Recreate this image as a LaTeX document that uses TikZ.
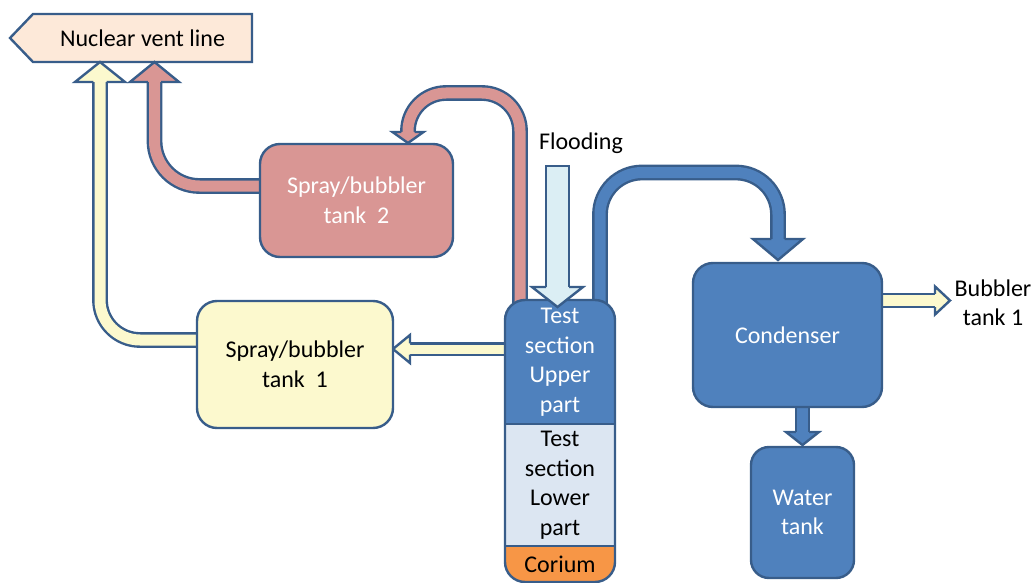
\documentclass[tikz,border=0pt]{standalone}
\usepackage{fontspec}
\setmainfont{Carlito}
\usepackage{xcolor}
\usepackage{tikz}
\usetikzlibrary{positioning,backgrounds}

\definecolor{lineblue}{RGB}{56,93,138}
\definecolor{boxblue}{RGB}{79,129,189}
\definecolor{pinkfill}{RGB}{217,150,148}
\definecolor{yellowfill}{RGB}{252,249,206}
\definecolor{ventfill}{RGB}{253,233,217}
\definecolor{lowfill}{RGB}{220,230,242}
\definecolor{floodfill}{RGB}{219,238,244}
\definecolor{coriumfill}{RGB}{247,150,70}

\newcommand{\labelfont}{\fontsize{24}{29.5}\selectfont}
\newcommand{\blkhead}[6]{\filldraw[outl, fill=#1, shift={(#2)}, rotate=#3] (0,#4) -- (0,#5) -- (#6,0) -- (0,-#5) -- (0,-#4);}

\begin{document}
\begin{tikzpicture}[x=1pt, y=-1pt,
		outl/.style={draw=lineblue, line width=2.4},
		box/.style={outl, rounded corners=20, align=center, inner sep=0, outer sep=0, font=\labelfont},
		part/.style={minimum width=110, inner sep=0, outer sep=0, align=center, font=\labelfont},
		pipe/.style={outl, double distance=11, rounded corners=40}]
		\useasboundingbox (0,0) rectangle (1036,583);
		\node[part, minimum width=219, minimum height=48] (vent) at (142.5,38) {Nuclear vent line};
		\node[box, fill=pinkfill, text=white, minimum width=193, minimum height=113] (tank2) at (356.5,200.5) {Spray/bubbler\\tank\ \ 2};
		\node[box, fill=yellowfill, minimum width=196, minimum height=127] (tank1) at (295,364.5) {Spray/bubbler\\tank\ \ 1};
		\begin{scope}
			\clip[rounded corners=20] (505,300) rectangle (615,582);
			\node[part, fill=boxblue, text=white, minimum height=124] (upper) at (560,362) {Test\\section\\Upper\\part};
			\node[part, fill=lowfill, minimum height=122, below=0pt of upper] (lower) {Test\\section\\Lower\\part};
			\node[part, fill=coriumfill, minimum height=36, below=0pt of lower] (corium) {Corium};
		\end{scope}
		\draw[outl, rounded corners=20] (upper.north west) rectangle (corium.south east);
		\draw[outl] (upper.south west) -- (upper.south east) (lower.south west) -- (lower.south east);
		\node[box, fill=boxblue, text=white, minimum width=189, minimum height=144] (cond) at (787.5,335) {Condenser};
		\node[box, rounded corners=18, fill=boxblue, text=white, minimum width=103, minimum height=131] (water) at (802.5,512.5) {Water\\tank};
		\node[font=\labelfont] (flood) at (581,143) {Flooding};
		\node[font=\labelfont, align=center] (bub) at (993,303) {Bubbler\\tank 1};
		\coordinate (vt1) at ([xshift=-42.5]vent.south);
		\coordinate (vt2) at ([xshift=12]vent.south);
		\coordinate (t2in) at ([xshift=51.5,yshift=1]tank2.north);
		\coordinate (ftip) at ([xshift=-2.5,yshift=-7]upper.north);
		\coordinate (ctip) at ([xshift=-9.5,yshift=3]cond.north);
		\coordinate (wtip) at ([yshift=2]water.north);
		\coordinate (btip) at ([xshift=68,yshift=34.5]cond.east);
		\coordinate (t1tip) at ([yshift=15.5]tank1.east);
		\coordinate (vb1) at ([yshift=-20]vt1);
		\coordinate (vb2) at ([yshift=-20]vt2);
		\coordinate (t2b) at ([yshift=11]t2in);
		\coordinate (fbase) at ([yshift=20]ftip);
		\coordinate (cb) at ([yshift=21]ctip);
		\coordinate (wb) at ([yshift=13]wtip);
		\coordinate (bb) at ([xshift=-15]btip);
		\coordinate (t1b) at ([xshift=17]t1tip);
		\begin{scope}[on background layer]
			\filldraw[outl, fill=ventfill] (vent.north east) -- (vent.north west) -- ([xshift=-23]vent.west) -- (vent.south west) -- (vent.south east) -- cycle;
			\draw[pipe, double=yellowfill] ([yshift=24.5]tank1.west) -| (vb1);
			\blkhead{yellowfill}{vb1}{90}{6.7}{25}{20}
			\draw[pipe, double=pinkfill, rounded corners=45] ([yshift=14.5]tank2.west) -| (vb2);
			\blkhead{pinkfill}{vb2}{90}{6.7}{24.5}{20}
			\draw[pipe, double=pinkfill, rounded corners=38] ([xshift=-40,yshift=-4]upper.north) -- ++(0,-211) -| (t2b);
			\blkhead{pinkfill}{t2b}{270}{6.7}{15.5}{11}
			\draw[pipe, double=boxblue, rounded corners=42] ([xshift=40,yshift=-4]upper.north) -- ++(0,-131.5) -| (cb);
			\blkhead{boxblue}{cb}{270}{6.7}{25}{21}
			\draw[pipe, double=boxblue] (cond.south -| wb) -- (wb);
			\blkhead{boxblue}{wb}{270}{6.7}{16.5}{13}
			\draw[pipe, double=yellowfill] (cond.east |- bb) -- (bb);
			\blkhead{yellowfill}{bb}{0}{6.7}{14}{15}
			\draw[pipe, double=yellowfill, double distance=9] (upper.west |- t1b) -- (t1b);
			\blkhead{yellowfill}{t1b}{180}{5.7}{14}{17}
		\end{scope}
		\filldraw[outl, fill=floodfill] ([xshift=-11.5]fbase) -- ++(0,-121) -- ++(23,0) -- ([xshift=11.5]fbase);
		\blkhead{floodfill}{fbase}{270}{11.5}{25.5}{20}
	\end{tikzpicture}
\end{document}
